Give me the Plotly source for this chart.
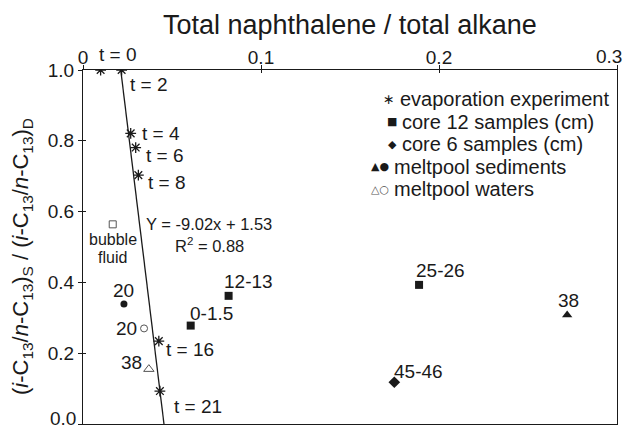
import plotly.graph_objects as go

FONT = "Liberation Sans, Arial, sans-serif"
INK = "#1a1a1a"
GREY = "#555555"

# ---- data ----
evap_t = ["t = 0", "t = 2", "t = 4", "t = 6", "t = 8", "t = 16", "t = 21"]
evap_x = [0.0099, 0.0217, 0.0268, 0.0296, 0.0311, 0.0426, 0.0432]
evap_y = [1.0, 1.0, 0.821, 0.781, 0.703, 0.234, 0.093]

fit_x = [0.0212, 0.0455]
fit_y = [1.0, 0.0]
fit_eq = "Y = -9.02x + 1.53"
fit_r2 = "R<sup>2</sup> = 0.88"

core12_lab = ["0-1.5", "12-13", "25-26"]
core12_x = [0.0605, 0.0818, 0.1888]
core12_y = [0.278, 0.362, 0.393]

core6_lab = ["45-46"]
core6_x = [0.1749]
core6_y = [0.118]

sed_tri_lab = ["38"]
sed_tri_x = [0.272]
sed_tri_y = [0.308]

sed_circ_lab = ["20"]
sed_circ_x = [0.0230]
sed_circ_y = [0.339]

wat_tri_lab = ["38"]
wat_tri_x = [0.0370]
wat_tri_y = [0.155]

wat_circ_lab = ["20"]
wat_circ_x = [0.0343]
wat_circ_y = [0.270]

bubble_lab = ["bubble", "fluid"]
bubble_x = [0.0167]
bubble_y = [0.564]

x_ticks = [0, 0.1, 0.2, 0.3]
x_ticktext = ["0", "0.1", "0.2", "0.3"]
y_ticks = [0, 0.2, 0.4, 0.6, 0.8, 1.0]
y_ticktext = ["0.0", "0.2", "0.4", "0.6", "0.8", "1.0"]

legend_syms = ["\u2217", "\u25A0", "\u25C6", "\u25B2\u25CF", "\u25B3\u25CB"]
legend_sym_colors = [INK, INK, INK, INK, GREY]
legend_sym_sizes = [14, 11, 11, 11, 11]
legend_texts = ["evaporation experiment", "core 12 samples (cm)", "core 6 samples (cm)",
                "meltpool sediments", "meltpool waters"]
legend_text_x = [398, 400, 400, 392, 392]

fig = go.Figure()

fig.add_trace(go.Scatter(x=fit_x, y=fit_y, mode="lines",
                         line=dict(color=INK, width=1.3), hoverinfo="skip"))

fig.add_trace(go.Scatter(x=evap_x, y=evap_y, mode="markers",
                         marker=dict(symbol="asterisk-open", size=9, color=INK,
                                     line=dict(color=INK, width=1.3))))
fig.add_trace(go.Scatter(x=core12_x, y=core12_y, mode="markers",
                         marker=dict(symbol="square", size=8, color=INK)))
fig.add_trace(go.Scatter(x=core6_x, y=core6_y, mode="markers",
                         marker=dict(symbol="diamond", size=9, color=INK)))
fig.add_trace(go.Scatter(x=sed_tri_x, y=sed_tri_y, mode="markers",
                         marker=dict(symbol="triangle-up", size=9, color=INK)))
fig.add_trace(go.Scatter(x=sed_circ_x, y=sed_circ_y, mode="markers",
                         marker=dict(symbol="circle", size=7, color=INK)))
fig.add_trace(go.Scatter(x=wat_tri_x, y=wat_tri_y, mode="markers",
                         marker=dict(symbol="triangle-up-open", size=9, color=GREY,
                                     line=dict(color=GREY, width=1))))
fig.add_trace(go.Scatter(x=wat_circ_x, y=wat_circ_y, mode="markers",
                         marker=dict(symbol="circle-open", size=7, color=GREY,
                                     line=dict(color=GREY, width=1))))
fig.add_trace(go.Scatter(x=bubble_x, y=bubble_y, mode="markers",
                         marker=dict(symbol="square-open", size=7, color=GREY,
                                     line=dict(color=GREY, width=1))))

# dummy trace to draw the inward half of the cross ticks
fig.add_trace(go.Scatter(x=[None], y=[None], xaxis="x2", yaxis="y2",
                         mode="markers", showlegend=False, hoverinfo="skip"))

ann = []


def lab(x, y, text, xs, ys, size=19, xanchor="center", color=INK):
    ann.append(dict(x=x, y=y, xref="x", yref="y", text=text, showarrow=False,
                    xshift=xs, yshift=ys, xanchor=xanchor, yanchor="middle",
                    font=dict(family=FONT, size=size, color=color)))


# evaporation labels
evap_shift = [(-4, 16), (6, -14), (9, 0), (8, -8), (8, -7), (5, -8), (12, -15)]
for xv, yv, t, (xs, ys) in zip(evap_x, evap_y, evap_t, evap_shift):
    lab(xv, yv, t, xs, ys, xanchor="left")

lab(core12_x[0], core12_y[0], core12_lab[0], -3, 12, xanchor="left")
lab(core12_x[1], core12_y[1], core12_lab[1], -7, 14, xanchor="left")
lab(core12_x[2], core12_y[2], core12_lab[2], -5, 14, xanchor="left")
lab(core6_x[0], core6_y[0], core6_lab[0], -2, 11, xanchor="left")
lab(sed_tri_x[0], sed_tri_y[0], sed_tri_lab[0], 1, 14)
lab(sed_circ_x[0], sed_circ_y[0], sed_circ_lab[0], 0, 13)
lab(wat_circ_x[0], wat_circ_y[0], wat_circ_lab[0], -5, 0, xanchor="right")
lab(wat_tri_x[0], wat_tri_y[0], wat_tri_lab[0], -5, 7, xanchor="right")
lab(bubble_x[0], bubble_y[0], bubble_lab[0], 0, -15, size=16)
lab(bubble_x[0], bubble_y[0], bubble_lab[1], 0, -33, size=16)

# edge tick labels (kept inside the picture, as in the reference)
ann.append(dict(x=(624 - 83) / 534, y=1.0, xref="paper", yref="paper",
                text=x_ticktext[-1], showarrow=False, xanchor="right",
                yanchor="middle", yshift=14,
                font=dict(family=FONT, size=19, color=INK)))
ann.append(dict(x=(78 - 83) / 534, y=(424 - 431) / 354, xref="paper", yref="paper",
                text=y_ticktext[0], showarrow=False, xanchor="right",
                yanchor="bottom",
                font=dict(family=FONT, size=19, color=INK)))
x_ticktext_axis = x_ticktext[:-1] + [""]
y_ticktext_axis = [""] + y_ticktext[1:]

# fit equation
ann.append(dict(x=(144 - 83) / 534, y=(424 - 224) / 354, xref="paper", yref="paper",
                text=fit_eq, showarrow=False, xanchor="left", yanchor="middle",
                font=dict(family=FONT, size=16.5, color=INK)))
ann.append(dict(x=(173 - 83) / 534, y=(424 - 245) / 354, xref="paper", yref="paper",
                text=fit_r2, showarrow=False, xanchor="left", yanchor="middle",
                font=dict(family=FONT, size=16.5, color=INK)))

# axis titles
ann.append(dict(x=(350 - 83) / 534, y=(424 - 25) / 354, xref="paper", yref="paper",
                text="Total naphthalene / total alkane", showarrow=False,
                xanchor="center", yanchor="middle",
                font=dict(family=FONT, size=27, color=INK)))
ann.append(dict(x=(22 - 83) / 534, y=(424 - 257) / 354, xref="paper", yref="paper",
                text="(<i>i</i>-C<sub>13</sub>/<i>n</i>-C<sub>13</sub>)<sub>S</sub> / "
                     "(<i>i</i>-C<sub>13</sub>/<i>n</i>-C<sub>13</sub>)<sub>D</sub>",
                textangle=-90, showarrow=False, xanchor="center", yanchor="middle",
                font=dict(family=FONT, size=22, color=INK)))

# legend
for i in range(len(legend_texts)):
    yy = (424 - 99 - 22.5 * i) / 354
    ann.append(dict(x=(legend_text_x[i] - 83) / 534, y=yy, xref="paper", yref="paper",
                    text=legend_texts[i], showarrow=False, xanchor="left",
                    yanchor="middle", font=dict(family=FONT, size=20, color=INK)))
    ann.append(dict(x=(legend_text_x[i] - 84) / 534, y=yy, xref="paper", yref="paper",
                    text=legend_syms[i], showarrow=False, xanchor="right",
                    yanchor="middle",
                    font=dict(family="DejaVu Sans", size=legend_sym_sizes[i],
                              color=legend_sym_colors[i])))

axis_common = dict(showline=True, linecolor=INK, linewidth=1.3, automargin=False,
                   showgrid=False, zeroline=False, ticks="outside", ticklen=4,
                   tickwidth=1, tickcolor=INK,
                   tickfont=dict(family=FONT, size=19, color=INK))

fig.update_layout(
    template="none",
    width=627, height=431,
    margin=dict(l=83, r=10, t=70, b=7),
    paper_bgcolor="white", plot_bgcolor="white",
    showlegend=False,
    annotations=ann,
    xaxis=dict(range=[0, 0.3], side="top", tickvals=x_ticks, ticktext=x_ticktext_axis,
               mirror=True, ticklabelstandoff=-7, **axis_common),
    yaxis=dict(range=[0, 1], tickvals=y_ticks, ticktext=y_ticktext_axis,
               mirror=True, **axis_common),
    xaxis2=dict(range=[0, 0.3], overlaying="x", side="top", tickvals=x_ticks,
                ticks="inside", ticklen=3, tickcolor=INK, showticklabels=False,
                showline=False, showgrid=False, zeroline=False, automargin=False),
    yaxis2=dict(range=[0, 1], overlaying="y", side="left", tickvals=y_ticks,
                ticks="inside", ticklen=3, tickcolor=INK, showticklabels=False,
                showline=False, showgrid=False, zeroline=False, automargin=False),
)

fig.write_html("out.html")
